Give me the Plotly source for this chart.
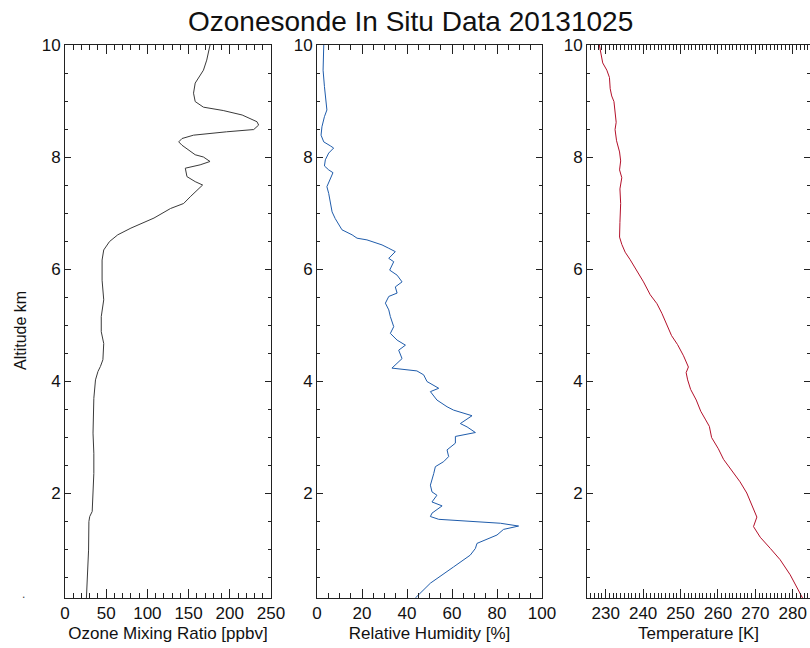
import plotly.graph_objects as go

W, H = 810, 648

# ---------------- data ----------------
ozone_alt = [10.0, 9.73, 9.55, 9.32, 9.14, 8.99, 8.89, 8.83, 8.75, 8.69, 8.63, 8.57, 8.49, 8.45,
             8.39, 8.33, 8.27, 8.21, 8.12, 8.04, 8.0, 7.92, 7.86, 7.80, 7.65, 7.56, 7.50, 7.41,
             7.29, 7.17, 7.08, 6.91, 6.73, 6.61, 6.49, 6.34, 6.16, 5.80, 5.51, 5.45, 5.15, 4.88,
             4.67, 4.38, 4.26, 4.17, 4.02, 3.69, 3.07, 2.71, 2.35, 1.88, 1.67, 1.58, 1.49, 0.98,
             0.57, 0.125]
ozone_ppbv = [176, 172, 168, 158, 156, 158, 168, 192, 215, 223, 233, 235, 229, 196,
              156, 142, 138, 142, 150, 158, 168, 176, 164, 146, 148, 158, 167, 160,
              152, 144, 128, 108, 80, 64, 54, 47, 45, 45, 47, 47, 44, 44,
              47, 46, 43, 40, 37, 35, 34, 35, 35, 34, 33, 30, 29, 28.6,
              27, 26]

rh_alt = [10.0, 9.55, 9.26, 9.08, 8.84, 8.72, 8.54, 8.39, 8.27, 8.20, 8.16, 8.07, 7.95, 7.84,
          7.77, 7.72, 7.62, 7.47, 7.35, 7.17, 7.02, 6.90, 6.82, 6.70, 6.61, 6.55, 6.52, 6.43,
          6.37, 6.31, 6.19, 6.13, 5.98, 5.89, 5.77, 5.68, 5.57, 5.51, 5.39, 5.27, 5.15, 4.97,
          4.85, 4.73, 4.64, 4.55, 4.40, 4.23, 4.18, 4.11, 3.99, 3.87, 3.81, 3.66, 3.54, 3.48,
          3.38, 3.24, 3.18, 3.08, 3.01, 2.89, 2.77, 2.65, 2.56, 2.47, 2.35, 2.14, 2.02, 1.96,
          1.84, 1.77, 1.64, 1.58, 1.53, 1.49, 1.46, 1.41, 1.35, 1.25, 1.17, 1.10, 1.01, 0.89,
          0.68, 0.51, 0.39, 0.125]
rh_pct = [3.0, 2.7, 3.3, 3.7, 4.4, 3.3, 2.2, 1.8, 3.0, 5.9, 7.4, 5.2, 3.7, 3.3,
          5.2, 7.1, 5.9, 4.4, 5.2, 6.2, 6.7, 8.1, 9.2, 11.1, 15.6, 17.8, 22.2, 28.9,
          31.9, 34.8, 31.9, 34.1, 32.3, 35.6, 37.8, 34.8, 35.6, 31.9, 30.4, 31.9, 32.6, 34.1,
          32.6, 35.6, 39.3, 36.3, 37.8, 33.3, 44.4, 47.4, 48.9, 54.1, 50.4, 53.3, 57.8, 60.7,
          68.9, 63.7, 66.7, 70.4, 61.5, 61.5, 57.8, 58.5, 56.3, 52.6, 51.9, 50.4, 51.1, 53.3,
          51.1, 55.6, 51.1, 50.4, 54.1, 67.4, 81.5, 89.6, 82.9, 80.0, 75.6, 71.1, 70.4, 68.1,
          60.7, 54.8, 50.4, 43.7]

temp_alt = [10.0, 9.88, 9.68, 9.55, 9.42, 9.22, 9.09, 8.99, 8.82, 8.62, 8.49, 8.29, 8.09, 7.93,
            7.77, 7.63, 7.43, 7.17, 6.83, 6.57, 6.44, 6.30, 6.17, 5.97, 5.77, 5.54, 5.38, 5.21,
            5.01, 4.81, 4.65, 4.45, 4.25, 4.15, 4.02, 3.85, 3.66, 3.46, 3.32, 3.19, 2.99, 2.79,
            2.60, 2.40, 2.20, 2.00, 1.80, 1.57, 1.40, 1.21, 1.01, 0.81, 0.54, 0.125]
temp_k = [228.3, 228.7, 229.2, 230.3, 231.0, 231.2, 231.6, 232.2, 232.5, 232.8, 232.5, 232.9, 233.7, 234.0,
          233.7, 234.3, 233.8, 234.0, 233.8, 233.7, 234.3, 235.2, 236.5, 238.3, 240.1, 241.9, 243.7, 245.0,
          246.3, 247.6, 249.2, 250.8, 252.1, 251.5, 251.9, 252.7, 254.2, 255.4, 256.6, 257.7, 258.3, 260.1,
          261.5, 263.7, 265.9, 267.7, 269.0, 270.4, 269.5, 271.3, 274.0, 276.6, 279.3, 282.6]

title_text = "Ozonesonde In Situ Data 20131025"
x_titles = ["Ozone Mixing Ratio [ppbv]", "Relative Humidity [%]", "Temperature [K]"]
y_title = "Altitude km"

# ---------------- layout helpers ----------------
def px(x):
    return x / W

def py(y):
    return 1 - y / H

FONT = "Liberation Sans"
TOP, BOT = 45, 598
panels = [(65, 271), (317, 542), (587, 810)]

fig = go.Figure()
fig.add_trace(go.Scatter(x=ozone_ppbv, y=ozone_alt, mode="lines",
                         line=dict(color="#3a3a3a", width=1), xaxis="x", yaxis="y"))
fig.add_trace(go.Scatter(x=rh_pct, y=rh_alt, mode="lines",
                         line=dict(color="#1f5cab", width=1), xaxis="x2", yaxis="y2"))
fig.add_trace(go.Scatter(x=temp_k, y=temp_alt, mode="lines",
                         line=dict(color="#b3102a", width=1), xaxis="x3", yaxis="y3"))

xranges = [[0, 250], [0, 100], [225, 284.6]]
xdticks = [50, 20, 10]
xminor = [10, 5, 1]

layout = dict(
    width=W, height=H,
    margin=dict(l=0, r=0, t=0, b=0, autoexpand=False),
    paper_bgcolor="white", plot_bgcolor="white",
    showlegend=False,
    font=dict(family=FONT, size=17, color="#111"),
)

for i, (x0, x1) in enumerate(panels):
    sfx = "" if i == 0 else str(i + 1)
    layout["xaxis" + sfx] = dict(
        domain=[px(x0), px(x1)], range=xranges[i], anchor="y" + sfx,
        showline=True, linecolor="#222", linewidth=1, mirror="ticks",
        ticks="inside", ticklen=9, tickwidth=1, tickcolor="#222",
        dtick=xdticks[i], tick0=0, showgrid=False, zeroline=False,
        minor=dict(dtick=xminor[i], tick0=0, ticks="inside", ticklen=5,
                   tickcolor="#222", showgrid=False),
        tickfont=dict(size=17, family=FONT),
        title=dict(text=x_titles[i], font=dict(size=17, family=FONT), standoff=4),
        automargin=False, fixedrange=True,
    )
    layout["yaxis" + sfx] = dict(
        domain=[py(BOT), py(TOP)], range=[0.125, 10.0], anchor="x" + sfx,
        showline=True, linecolor="#222", linewidth=1, mirror="ticks",
        ticks="inside", ticklen=6, tickwidth=1, tickcolor="#222",
        dtick=2, tick0=0, showgrid=False, zeroline=False,
        minor=dict(dtick=0.5, tick0=0, ticks="inside", ticklen=3,
                   tickcolor="#222", showgrid=False),
        tickfont=dict(size=17, family=FONT),
        automargin=False, fixedrange=True,
    )

layout["annotations"] = [
    dict(text=title_text, x=px(410), y=py(21), xref="paper", yref="paper",
         showarrow=False, font=dict(size=28, family=FONT, color="#111"),
         xanchor="center", yanchor="middle"),
    dict(text=y_title, x=px(20), y=py(331), xref="paper", yref="paper",
         showarrow=False, textangle=-90, font=dict(size=16, family=FONT, color="#111"),
         xanchor="center", yanchor="middle"),
    dict(text=".", x=px(23), y=py(594), xref="paper", yref="paper",
         showarrow=False, font=dict(size=12, family=FONT, color="#444"),
         xanchor="center", yanchor="middle"),
]

fig.update_layout(**layout)
fig.write_html("out.html")
